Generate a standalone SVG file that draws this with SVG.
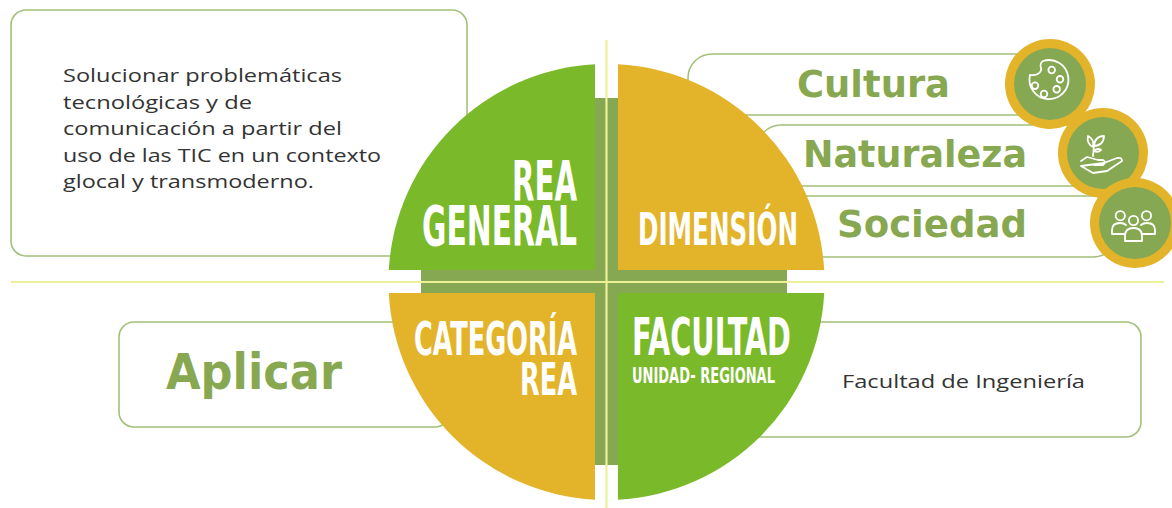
<svg xmlns="http://www.w3.org/2000/svg" width="1172" height="508" viewBox="0 0 1172 508">
<style>
.box{fill:#fff;stroke:#a3c07a;stroke-width:1.6}
.body{font-family:"Open Sans","Liberation Sans",sans-serif;font-size:19px;fill:#333}
.head{font-family:"DejaVu Sans","Liberation Sans",sans-serif;font-weight:bold;fill:#87a851}
.cap{font-family:"Liberation Sans Narrow","DejaVu Sans Condensed","DejaVu Sans",sans-serif;font-stretch:condensed;font-weight:bold;fill:#fff}
.green{fill:#7ab929}
.gold{fill:#e3b42a}
.olive{fill:#87a853}
.ring{fill:#e3b42a}
.inner{fill:#87a853}
.ico{fill:none;stroke:#fff;stroke-width:1.8;stroke-linecap:round;stroke-linejoin:round}
.guide{stroke:#eef097;stroke-width:2.2;fill:none}
</style>
<rect width="1172" height="508" fill="#fff"/>

<g id="rea-general-text">
<rect class="box" x="11" y="10" width="456" height="246" rx="15"/>
<text class="body"><tspan x="63" y="82" textLength="279" lengthAdjust="spacingAndGlyphs">Solucionar problemáticas</tspan><tspan x="63" y="108.5" textLength="189" lengthAdjust="spacingAndGlyphs">tecnológicas y de</tspan><tspan x="63" y="135" textLength="279" lengthAdjust="spacingAndGlyphs">comunicación a partir del</tspan><tspan x="63" y="161.5" textLength="318" lengthAdjust="spacingAndGlyphs">uso de las TIC en un contexto</tspan><tspan x="63" y="188" textLength="251" lengthAdjust="spacingAndGlyphs">glocal y transmoderno.</tspan></text>
</g>

<g id="cultura">
<rect class="box" x="688" y="54" width="360" height="61" rx="24"/>
<text class="head" x="797" y="97" font-size="38" textLength="153" lengthAdjust="spacingAndGlyphs">Cultura</text>
</g>
<g id="naturaleza">
<rect class="box" x="757" y="125" width="345" height="61" rx="24"/>
<text class="head" x="803" y="167" font-size="38" textLength="224" lengthAdjust="spacingAndGlyphs">Naturaleza</text>
</g>
<g id="sociedad">
<rect class="box" x="757" y="196" width="360" height="61" rx="24"/>
<text class="head" x="837" y="237" font-size="38" textLength="190" lengthAdjust="spacingAndGlyphs">Sociedad</text>
</g>

<g id="aplicar">
<rect class="box" x="119" y="322" width="331" height="105" rx="15"/>
<text class="head" x="166" y="389" font-size="49" textLength="176" lengthAdjust="spacingAndGlyphs">Aplicar</text>
</g>
<g id="facultad-ingenieria">
<rect class="box" x="735" y="322" width="406" height="115" rx="15"/>
<text class="body" x="842" y="388" textLength="243" lengthAdjust="spacingAndGlyphs">Facultad de Ingeniería</text>
</g>

<g id="cross">
<rect class="olive" x="595" y="98" width="23" height="367"/>
<rect class="olive" x="421" y="270" width="366" height="23"/>
</g>

<g id="rea-general">
<path class="green" d="M595,270 L595,64.3 A218,218 0 0 0 388.8,270 Z"/>
<text class="cap" x="512" y="200" font-size="56" textLength="65" lengthAdjust="spacingAndGlyphs">REA</text>
<text class="cap" x="422" y="245" font-size="55" textLength="155" lengthAdjust="spacingAndGlyphs">GENERAL</text>
</g>
<g id="dimension">
<path class="gold" d="M618,270 L618,64.3 A218,218 0 0 1 824.2,270 Z"/>
<text class="cap" x="638" y="245" font-size="44" textLength="160" lengthAdjust="spacingAndGlyphs">DIMENSIÓN</text>
</g>
<g id="categoria-rea">
<path class="gold" d="M595,293 L595,499.7 A218,218 0 0 1 388.8,293 Z"/>
<text class="cap" x="414" y="355" font-size="46" textLength="163" lengthAdjust="spacingAndGlyphs">CATEGORÍA</text>
<text class="cap" x="520" y="395" font-size="45" textLength="57" lengthAdjust="spacingAndGlyphs">REA</text>
</g>
<g id="facultad">
<path class="green" d="M618,293 L618,499.7 A218,218 0 0 0 824.2,293 Z"/>
<text class="cap" x="632" y="355" font-size="52" textLength="159" lengthAdjust="spacingAndGlyphs">FACULTAD</text>
<text class="cap" x="632" y="383" font-size="20.5" textLength="143" lengthAdjust="spacingAndGlyphs">UNIDAD- REGIONAL</text>
</g>

<g id="connectors">
<line class="guide" x1="606.5" y1="40" x2="606.5" y2="508"/>
<line class="guide" x1="11" y1="282" x2="1164" y2="282"/>
</g>

<g id="icon-cultura">
<circle class="ring" cx="1050" cy="84" r="45"/>
<circle class="inner" cx="1050" cy="84" r="36"/>
<path class="ico" d="M1043,61 A19.5,19.5 0 1 1 1030,75 C1036,76 1042,73 1041,68 C1040,65 1041,62 1043,61 Z"/>
<circle class="ico" cx="1051.7" cy="70" r="3.3"/>
<circle class="ico" cx="1060" cy="79.3" r="3.3"/>
<circle class="ico" cx="1056.7" cy="89.3" r="3.3"/>
<circle class="ico" cx="1044" cy="94" r="3.3"/>
<circle class="ico" cx="1035" cy="85.7" r="3.3"/>
</g>
<g id="icon-naturaleza">
<circle class="ring" cx="1103" cy="153" r="45"/>
<circle class="inner" cx="1103" cy="153" r="36"/>
<path class="ico" d="M1093,156 L1094,146 M1094,146 C1094,140 1098,136 1104,136 C1104,142 1100,146 1094,146 Z M1093,147 C1089,145 1087,141 1088,136 C1092,138 1094,142 1093,147 Z M1094,151 C1097,148 1100,149 1101,150 C1098,153 1096,152 1094,151 Z"/>
<path class="ico" d="M1081,161 L1087,157 L1098,160 L1103,160 Q1107,162 1103,165 L1094,165 M1104,163 L1117,158 Q1122,157 1122,161 L1107,171 L1093,173 L1081,166 Z"/>
</g>
<g id="icon-sociedad">
<circle class="ring" cx="1135" cy="223" r="45"/>
<circle class="inner" cx="1135" cy="223" r="36"/>
<circle class="ico" cx="1120.3" cy="215.7" r="4.6"/>
<circle class="ico" cx="1146.5" cy="215.7" r="4.6"/>
<circle class="ico" cx="1133.5" cy="220.5" r="4.6"/>
<path class="ico" d="M1124,234 L1112,234 L1112,230 Q1112,223 1120,223 Q1124,223 1126,225 M1143,234 L1155,234 L1155,230 Q1155,223 1147,223 Q1143,223 1141,225 M1125,241 L1125,236 Q1125,228 1133.5,228 Q1142,228 1142,236 L1142,241 Z"/>
</g>
</svg>
